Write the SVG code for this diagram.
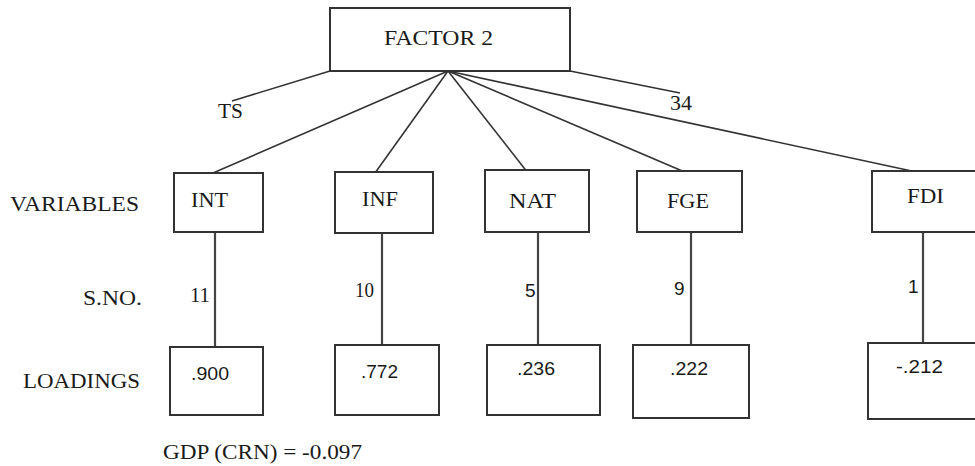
<svg xmlns="http://www.w3.org/2000/svg" width="975" height="466" viewBox="0 0 975 466">
<style>
.box{fill:#fff;stroke:#333;stroke-width:2}
.ln{stroke:#333;stroke-width:1.6;fill:none}
.vl{stroke:#444;stroke-width:2.2;fill:none}
.t{font-family:"Liberation Serif","Times New Roman",serif;font-size:21px;fill:#1a1a1a}
.n{font-family:"Liberation Sans",Arial,sans-serif;font-size:19px;fill:#1a1a1a}
</style>
<rect width="975" height="466" fill="#fff"/>
<g id="connectors">
<line class="ln" x1="330" y1="71" x2="232" y2="101"/>
<line class="ln" x1="570" y1="71" x2="680" y2="93"/>
<line class="ln" x1="448" y1="71" x2="213" y2="173"/>
<line class="ln" x1="448" y1="71" x2="375" y2="173"/>
<line class="ln" x1="448" y1="71" x2="528" y2="173"/>
<line class="ln" x1="448" y1="71" x2="687" y2="173"/>
<line class="ln" x1="448" y1="71" x2="921" y2="173"/>
<line class="vl" x1="215" y1="232" x2="215" y2="350"/>
<line class="vl" x1="382" y1="233" x2="382" y2="349"/>
<line class="vl" x1="538" y1="232" x2="538" y2="350"/>
<line class="vl" x1="691" y1="232" x2="691" y2="350"/>
<line class="vl" x1="923" y1="232" x2="923" y2="350"/>
</g>
<g id="factor2"><rect class="box" x="330" y="8" width="240" height="63"/><text class="t" x="384" y="45" textLength="109" lengthAdjust="spacingAndGlyphs">FACTOR 2</text></g>
<g id="labels">
<text class="t" x="218" y="118" textLength="25" lengthAdjust="spacingAndGlyphs">TS</text>
<text class="t" x="670" y="110" font-size="19" textLength="22" lengthAdjust="spacingAndGlyphs">34</text>
<text class="t" x="10" y="211" textLength="129" lengthAdjust="spacingAndGlyphs">VARIABLES</text>
<text class="t" x="83" y="305" textLength="59" lengthAdjust="spacingAndGlyphs">S.NO.</text>
<text class="t" x="23" y="388" textLength="117" lengthAdjust="spacingAndGlyphs">LOADINGS</text>
<text class="t" x="163" y="459" textLength="199" lengthAdjust="spacingAndGlyphs">GDP (CRN) = -0.097</text>
<text class="t" x="190" y="302" textLength="20" lengthAdjust="spacingAndGlyphs">11</text>
<text class="t" x="355" y="297" textLength="19" lengthAdjust="spacingAndGlyphs">10</text>
<text class="n" x="525" y="297">5</text>
<text class="n" x="674" y="295">9</text>
<text class="n" x="908" y="293">1</text>
</g>
<g id="int"><rect class="box" x="174" y="173" width="89" height="59"/><text class="t" x="191" y="207" textLength="37" lengthAdjust="spacingAndGlyphs">INT</text></g>
<g id="inf"><rect class="box" x="335" y="172" width="98" height="61"/><text class="t" x="362" y="206" textLength="36" lengthAdjust="spacingAndGlyphs">INF</text></g>
<g id="nat"><rect class="box" x="485" y="170" width="104" height="62"/><text class="t" x="509" y="208" textLength="47" lengthAdjust="spacingAndGlyphs">NAT</text></g>
<g id="fge"><rect class="box" x="637" y="171" width="105" height="61"/><text class="t" x="667" y="208" textLength="42" lengthAdjust="spacingAndGlyphs">FGE</text></g>
<g id="fdi"><rect class="box" x="872" y="171" width="110" height="61"/><text class="t" x="907" y="203" textLength="37" lengthAdjust="spacingAndGlyphs">FDI</text></g>
<g id="l900"><rect class="box" x="170" y="347" width="93" height="68"/><text class="n" x="191" y="380" textLength="38" lengthAdjust="spacingAndGlyphs">.900</text></g>
<g id="l772"><rect class="box" x="335" y="345" width="104" height="70"/><text class="n" x="361" y="378" textLength="37" lengthAdjust="spacingAndGlyphs">.772</text></g>
<g id="l236"><rect class="box" x="487" y="345" width="113" height="70"/><text class="n" x="517" y="375" textLength="38" lengthAdjust="spacingAndGlyphs">.236</text></g>
<g id="l222"><rect class="box" x="633" y="345" width="116" height="73"/><text class="n" x="670" y="375" textLength="38" lengthAdjust="spacingAndGlyphs">.222</text></g>
<g id="l212"><rect class="box" x="868" y="343" width="115" height="76"/><text class="n" x="896" y="373" textLength="47" lengthAdjust="spacingAndGlyphs">-.212</text></g>
</svg>
